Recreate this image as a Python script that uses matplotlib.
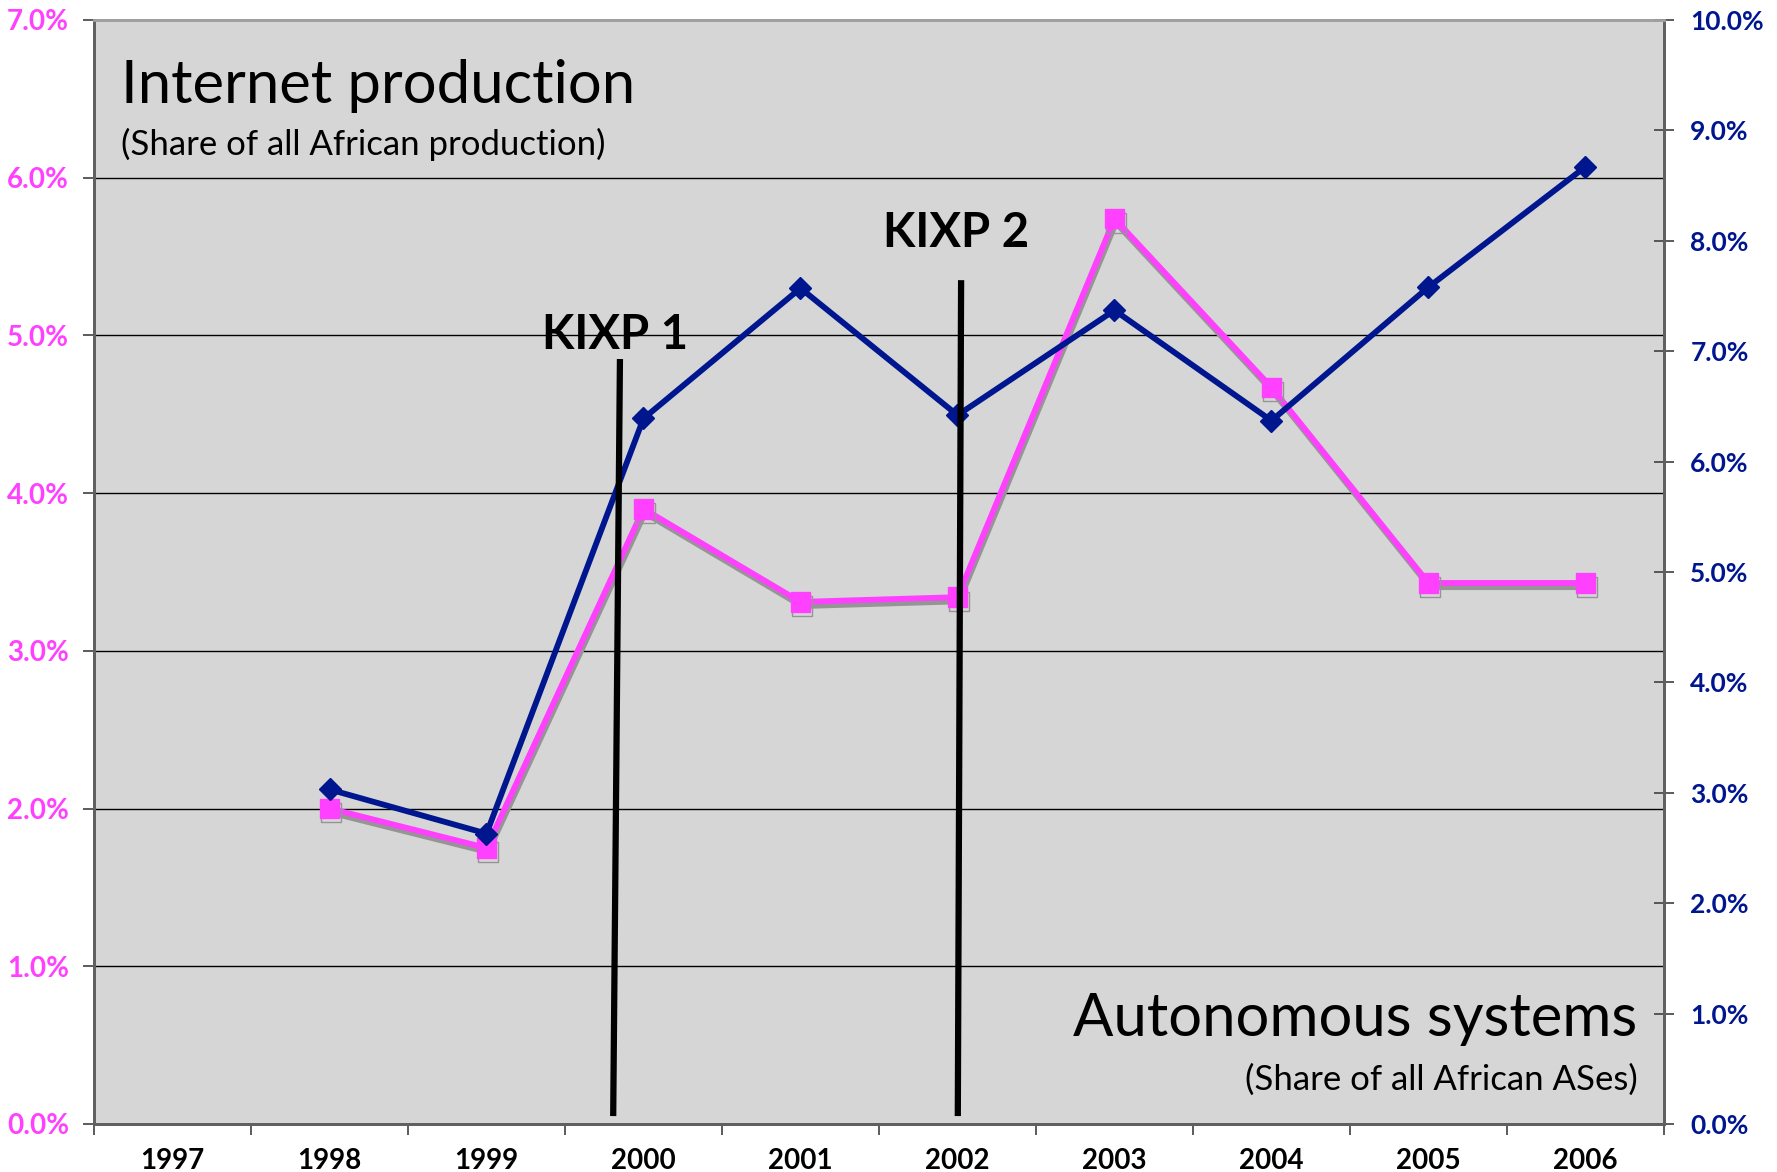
import matplotlib
matplotlib.use("Agg")
import matplotlib.pyplot as plt
import matplotlib.patheffects as pe
from matplotlib.ticker import FixedLocator, PercentFormatter

plt.rcParams["font.family"] = ["Lato", "DejaVu Sans"]

# --- data ---
years = ["1997", "1998", "1999", "2000", "2001", "2002", "2003", "2004", "2005", "2006"]
prod_years = ["1998", "1999", "2000", "2001", "2002", "2003", "2004", "2005", "2006"]
production_pct = [2.00, 1.75, 3.90, 3.31, 3.34, 5.74, 4.67, 3.43, 3.43]   # left axis
as_pct = [3.03, 2.63, 6.39, 7.57, 6.42, 7.37, 6.37, 7.58, 8.67]           # right axis
left_ticks = [0, 1, 2, 3, 4, 5, 6, 7]
right_ticks = [0, 1, 2, 3, 4, 5, 6, 7, 8, 9, 10]

PINK = "#FF40FF"
NAVY = "#00168F"
BG = "#D6D6D6"
TICKFONT = dict(fontsize=20, fontweight="bold")

fig = plt.figure(figsize=(17.77, 11.72), dpi=100)
ax = fig.add_axes([0.0529, 0.041, 0.8835, 0.942])
ax.set_facecolor(BG)
ax2 = ax.twinx()

xpos = {y: i for i, y in enumerate(years)}
px = [xpos[y] for y in prod_years]

# --- production (pink, square, grey shadow) ---
ax.plot(px, production_pct, color=PINK, lw=4.2, marker="s", markersize=14,
        markeredgecolor=PINK, markeredgewidth=1, zorder=3,
        path_effects=[pe.SimpleLineShadow(offset=(1, -3), shadow_color="#959595", alpha=1),
                      pe.Normal()])

# --- autonomous systems (navy, diamond) ---
ax2.plot(px, as_pct, color=NAVY, lw=4.2, marker="D", markersize=11,
         markeredgecolor=NAVY, zorder=3)

# --- KIXP markers (drawn in left-axis data units) ---
for (x0, x1, ytop), label, ylab in [((2.807, 2.85, 4.85), "KIXP 1", 5.0),
                                     ((5.002, 5.023, 5.35), "KIXP 2", 5.65)]:
    ax2.plot([x0, x1], [0.05, ytop], color="black", lw=4.5, transform=ax.transData,
             solid_capstyle="butt", zorder=4)
    ax2.text(x1 - 0.03, ylab, label, transform=ax.transData, ha="center", va="center",
             fontsize=34, fontweight="bold", color="black", zorder=5)

# --- axes styling ---
ax.set_xlim(-0.5, len(years) - 0.5)
ax.set_ylim(0, 7)
ax2.set_ylim(0, 10)

ax.xaxis.set_major_locator(FixedLocator([i - 0.5 for i in range(len(years) + 1)]))
ax.xaxis.set_minor_locator(FixedLocator(list(range(len(years)))))
ax.set_xticklabels([], minor=False)
ax.set_xticklabels(years, minor=True, **TICKFONT)
ax.tick_params(axis="x", which="major", direction="out", length=8, width=1.2, color="#404040")
ax.tick_params(axis="x", which="minor", length=0, pad=17)

ax.set_yticks(left_ticks)
ax.yaxis.set_major_formatter(PercentFormatter(decimals=1))
ax.tick_params(axis="y", direction="out", length=8, width=1.2, color="#404040",
               labelcolor=PINK, labelsize=TICKFONT["fontsize"], pad=10)
for t in ax.get_yticklabels():
    t.set_fontweight(TICKFONT["fontweight"])

ax2.set_yticks(right_ticks)
ax2.yaxis.set_major_formatter(PercentFormatter(decimals=1))
ax2.tick_params(axis="y", direction="inout", length=14, width=1.2, color="#404040",
                labelcolor=NAVY, labelsize=19, pad=12)
for t in ax2.get_yticklabels():
    t.set_fontweight(TICKFONT["fontweight"])

ax.grid(True, axis="y", color="black", lw=1)
ax.set_axisbelow(True)

for a in (ax, ax2):
    a.spines["top"].set_color("#A0A0A0")
    a.spines["top"].set_linewidth(2)
    for s in ("left", "right", "bottom"):
        a.spines[s].set_color("#606060")
        a.spines[s].set_linewidth(2)

# --- in-plot titles ---
ax.text(0.017, 0.94, "Internet production", transform=ax.transAxes, fontsize=43,
        ha="left", va="center", color="black")
ax.text(0.017, 0.887, "(Share of all African production)", transform=ax.transAxes,
        fontsize=25, ha="left", va="center", color="black")
ax.text(0.983, 0.095, "Autonomous systems", transform=ax.transAxes, fontsize=43,
        ha="right", va="center", color="black", zorder=6)
ax.text(0.983, 0.04, "(Share of all African ASes)", transform=ax.transAxes,
        fontsize=25, ha="right", va="center", color="black", zorder=6)

fig.savefig("out.png", dpi=100)
